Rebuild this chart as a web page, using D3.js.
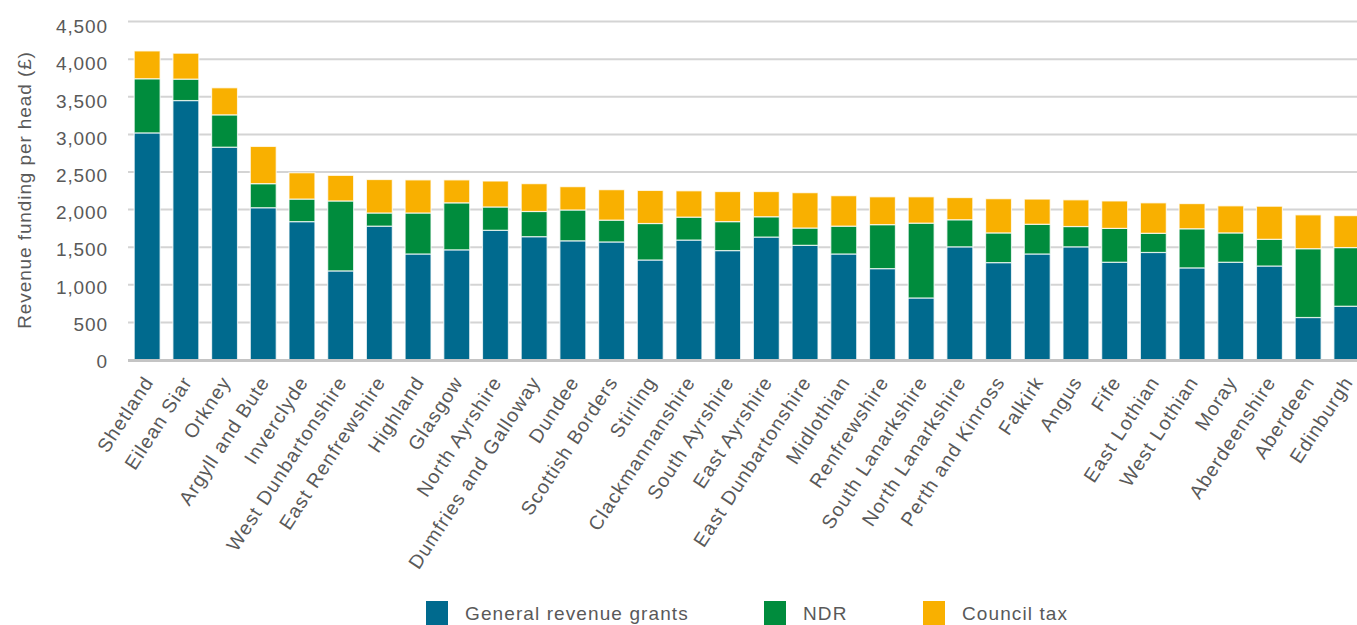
<!DOCTYPE html>
<html><head><meta charset="utf-8">
<script src="https://cdn.jsdelivr.net/npm/d3@7"></script>
<style>
html,body{margin:0;padding:0;background:#fff;}
svg{display:block;}
text{font-family:"Liberation Sans",Arial,sans-serif;fill:#595959;}
</style></head>
<body>
<svg id="chart" width="1357" height="625"></svg>
<script>
const categories = ["Shetland","Eilean Siar","Orkney","Argyll and Bute","Inverclyde","West Dunbartonshire","East Renfrewshire","Highland","Glasgow","North Ayrshire","Dumfries and Galloway","Dundee","Scottish Borders","Stirling","Clackmannanshire","South Ayrshire","East Ayrshire","East Dunbartonshire","Midlothian","Renfrewshire","South Lanarkshire","North Lanarkshire","Perth and Kinross","Falkirk","Angus","Fife","East Lothian","West Lothian","Moray","Aberdeenshire","Aberdeen","Edinburgh"];
const generalRevenueGrants = [3020,3450,2830,2025,1840,1185,1780,1410,1465,1725,1640,1585,1570,1330,1595,1455,1635,1525,1410,1215,825,1505,1295,1410,1505,1300,1430,1225,1300,1250,565,715];
const ndr = [720,285,430,320,300,930,175,545,625,310,335,410,290,485,305,385,270,230,370,585,995,360,395,395,270,450,255,520,390,355,915,780];
const councilTax = [370,345,360,495,350,340,445,440,305,345,370,310,405,440,350,400,335,470,405,370,350,295,455,335,355,365,405,335,360,440,450,425];
const seriesNames = ["General revenue grants","NDR","Council tax"];
const seriesColors = ["#006a8e","#008c3d","#f9b000"];
const yTicks = [0,500,1000,1500,2000,2500,3000,3500,4000,4500];
const yTitle = "Revenue funding per head (£)";

const svg = d3.select("#chart");
const rows = categories.map((c,i)=>({cat:c,"General revenue grants":generalRevenueGrants[i],"NDR":ndr[i],"Council tax":councilTax[i]}));
const stacked = d3.stack().keys(seriesNames)(rows);

const x = d3.scaleBand().domain(categories).range([128,1366]).paddingInner(0.33).paddingOuter(0.16);
const y = d3.scaleLinear().domain([0,4500]).range([360,21.6]);
const yLab = d3.scaleLinear().domain([0,4500]).range([361.5,26.7]);
const color = d3.scaleOrdinal().domain(seriesNames).range(seriesColors);

// gridlines
svg.append("g").selectAll("line").data(yTicks.filter(d=>d>0)).join("line")
  .attr("x1",128).attr("x2",1357).attr("y1",d=>y(d)).attr("y2",d=>y(d))
  .attr("stroke","#d4d4d4").attr("stroke-width",2);

// y labels
svg.append("g").selectAll("text").data(yTicks).join("text")
  .attr("x",108).attr("y",d=>yLab(d)).attr("text-anchor","end")
  .attr("dominant-baseline","central")
  .style("font-size","19px").style("letter-spacing","0.9px")
  .text(d=>d3.format(",")(d));

// y title
svg.append("text").attr("transform","translate(31,190) rotate(-90)")
  .attr("text-anchor","middle").style("font-size","19px").style("letter-spacing","0.9px")
  .text(yTitle);

// bars
svg.append("g").selectAll("g").data(stacked).join("g")
  .attr("fill",d=>color(d.key))
  .selectAll("rect").data(d=>d).join("rect")
  .attr("x",d=>x(d.data.cat)).attr("width",x.bandwidth())
  .attr("y",d=>y(d[1])).attr("height",d=>y(d[0])-y(d[1]))
  .attr("stroke","#ffffff").attr("stroke-opacity",0.75).attr("stroke-width",1.2);

// baseline
svg.append("line").attr("x1",128).attr("x2",1357).attr("y1",y(0)+0.5).attr("y2",y(0)+0.5)
  .attr("stroke","#c4c4c4").attr("stroke-width",3);

// category labels
svg.append("g").selectAll("text").data(categories).join("text")
  .attr("transform",d=>`translate(${x(d)+x.bandwidth()/2+7},382) rotate(-57)`)
  .attr("text-anchor","end").style("font-size","19.5px").style("letter-spacing","1.1px")
  .text(d=>d);

// legend
const legX = [426,764,923];
const lg = svg.append("g").selectAll("g").data(seriesNames).join("g")
  .attr("transform",(d,i)=>`translate(${legX[i]},601)`);
lg.append("rect").attr("width",22).attr("height",26).attr("fill",d=>color(d));
lg.append("text").attr("x",39).attr("y",19).style("font-size","19px").style("letter-spacing","1.1px").text(d=>d);
</script>
</body></html>
